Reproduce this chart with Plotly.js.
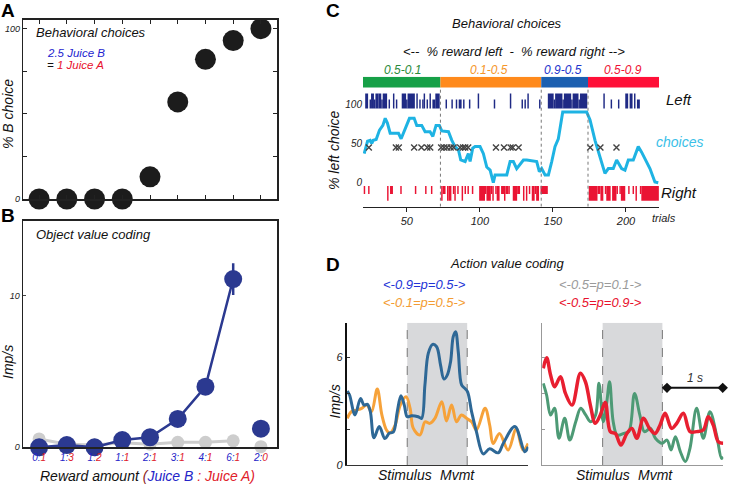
<!DOCTYPE html>
<html><head><meta charset="utf-8">
<script src="https://cdn.plot.ly/plotly-3.0.1.min.js"></script>
<style>html,body{margin:0;padding:0;background:#fff}#chart{width:729px;height:484px}</style>
</head><body><div id="chart"></div>
<script>
// ---------- Panel A / B data ----------
const ratioLabels = ['0:1','1:3','1:2','1:1','2:1','3:1','4:1','6:1','2:0'];
const pctBChoice = [0,0,0,0,13,57,82,93,100];
const objValueB = [0,0.15,0,0.48,0.66,1.87,4.0,11.1,1.23];
const objValueErr = [0,0,0,0,0,0,0,1.05,0];
const otherValue = [0.55,0.2,0.15,0.3,0.2,0.33,0.33,0.43,0.04];

// ---------- Panel C data ----------
const trialTicks = [50,100,150,200];
const blockEdges = [20,73,142,174,222.6];
const blockLabels = ['0.5-0.1','0.1-0.5','0.9-0.5','0.5-0.9'];
const blockColors = ['#16a047','#ff8a1c','#1c5fb0','#ff1038'];
const blockLabelColors = ['#2a8a3a','#f5962a','#2233cc','#ee1133'];
const choiceTrial = [20.8,23.1,24.9,26,27,29,31.3,33.6,35.2,36.7,38.6,44.3,46.1,48.8,51.8,55,56.8,60.2,62.5,65.9,67.8,70,72.3,73.9,78.5,80.8,83,85.3,86.9,89.9,92.1,93.3,95.1,96.7,100.1,102.4,104.7,107,109.2,110.4,118.4,120.7,122.9,125.2,129.8,132.1,138.9,140.7,142.3,144.6,146.9,149.2,151.4,153.7,156.7,173.1,175.4,178.8,182.2,185.6,187.9,191.3,193.6,197,199.3,201.6,205,208.4,210.7,213,216.4,219.8,222.1];
const choicePct = [37,53,54,50,54,55,67,73,82,76,63,63,56,69,82,82,73,73,65,65,59,73,73,66,65,54,46,42,29,27,37,27,44,46,46,37,20,16,0,10,10,27,27,18,29,29,27,14,18,10,10,27,46,56,90,90,80,54,33,12,18,18,29,18,16,29,29,46,39,31,18,1,0];
const xMarkTrials = [24,42.5,44.5,55,60,64,66,73.5,75.5,77.5,80,82,86.5,88.5,90,92,111,116.5,121,122.5,126.5,175.5,182.5,193.5];
const xMarkLevel = 45;
const leftTall = [[22,23],[26,27],[29,30],[31,32],[34,36],[41,41],[47,49],[51,55],[57,57],[62,62],[66,66],[70,72],[99,99],[121,121],[133,133],[147,150],[152,156],[158,162],[164,167],[169,173],[185,185],[200,201],[203,204],[206,206]];
const leftShort = [[25,25],[28,28],[33,33],[38,38],[43,43],[50,50],[59,59],[61,61],[64,64],[68,69],[77,77],[81,81],[84,84],[86,87],[89,89],[93,93],[110,110],[129,129],[131,131],[141,141],[151,151],[157,157],[163,163],[168,168],[190,190],[195,195],[208,209]];
const rightTall = [[37,37],[74,74],[78,78],[79,80],[83,83],[88,88],[100,103],[105,107],[109,109],[112,113],[117,117],[123,125],[130,130],[132,132],[136,137],[139,140],[175,180],[183,184],[187,189],[191,193],[197,199],[207,207],[211,222]];
const rightShort = [[21,21],[24,24],[39,40],[46,46],[56,56],[63,63],[67,67],[75,76],[82,82],[85,85],[90,90],[92,92],[95,95],[104,104],[108,108],[111,111],[115,116],[118,119],[120,120],[126,127],[134,134],[138,138],[142,146],[181,182],[186,186],[194,194],[196,196],[202,202],[205,205],[210,210]];

// ---------- Panel D data ----------
const mvmtTime = 1.04;
const tBlue = [-1.04,-1.0,-0.906,-0.81,-0.75,-0.69,-0.64,-0.577,-0.485,-0.387,-0.31,-0.24,-0.173,-0.109,-0.051,0,0.076,0.191,0.249,0.307,0.365,0.44,0.51,0.578,0.636,0.694,0.752,0.798,0.839,0.885,0.943,1.0,1.047,1.116,1.2,1.318,1.43,1.578,1.665,1.867,2.04,2.098];
const rBlue = [4.12,3.9,2.79,3.71,3.34,3.38,2.97,1.52,2.14,1.47,1.78,1.84,2.97,3.86,3.34,2.69,2.75,2.69,2.6,4.46,6.22,6.72,6.59,5.57,4.79,5.01,5.76,7.15,7.43,6.31,4.46,4.27,4.08,2.97,1.86,0.62,0.9,0.68,1.2,2.14,0.74,1.02];
const tOrange = [-1.04,-0.97,-0.88,-0.79,-0.7,-0.62,-0.52,-0.44,-0.36,-0.3,-0.21,-0.12,-0.02,0.05,0.106,0.22,0.31,0.39,0.48,0.6,0.68,0.77,0.855,0.94,1.03,1.116,1.2,1.35,1.43,1.49,1.6,1.75,1.89,2.01,2.098];
const rOrange = [2.6,2.97,3.06,3.16,3.34,2.97,4.23,2.79,1.95,1.78,2.23,3.34,3.8,3.16,2.04,1.67,2.41,2.32,2.6,3.53,2.45,3.34,2.41,2.79,2.6,2.41,1.95,3.16,2.23,1.2,1.76,0.83,2.0,0.83,1.2];
const tRed = [-1.033,-0.975,-0.906,-0.837,-0.733,-0.647,-0.532,-0.387,-0.3,-0.214,-0.127,-0.04,0.046,0.133,0.22,0.318,0.422,0.509,0.595,0.711,0.815,0.913,1.0,1.087,1.202,1.289,1.405,1.52,1.636,1.752,1.838,1.925,2.012,2.098];
const rRed = [5.39,5.98,5.02,4.36,4.92,3.99,3.34,5.11,4.64,3.34,2.32,2.79,3.49,1.86,1.76,1.11,1.76,2.04,1.49,2.6,2.04,1.76,2.23,2.88,2.04,2.32,2.88,1.86,1.86,1.95,2.69,2.23,1.3,1.21];
const tGreen = [-1.033,-0.975,-0.906,-0.837,-0.76,-0.66,-0.572,-0.468,-0.381,-0.295,-0.208,-0.122,-0.064,0.011,0.069,0.121,0.184,0.254,0.37,0.456,0.555,0.647,0.728,0.832,0.918,1.034,1.121,1.19,1.266,1.353,1.44,1.52,1.636,1.752,1.867,1.983,2.07,2.1];
const rGreen = [4.55,3.9,2.79,3.16,1.49,2.6,1.39,2.41,3.16,2.79,2.41,2.79,4.55,2.41,3.43,4.64,2.41,1.67,1.76,1.86,3.99,2.79,1.86,2.04,1.49,1.21,1.39,0.84,1.58,0.74,0.19,0.93,3.16,1.49,2.97,1.67,0.37,0.45];
const scaleBarX = [1.12, 2.09];
const scaleBarLevel = 4.3;

// ---------- build ----------
const W = 729, H = 484;
const fam = 'Liberation Sans, Arial, Helvetica, sans-serif';
const idx = ratioLabels.map((_, i) => i + 1);
const navyB = '#2b3990', grayB = '#cdcdcd';

function ann(text, px, py, size, color, extra) {
  return Object.assign({text: text, x: px / W, y: 1 - py / H, xref: 'paper', yref: 'paper',
    showarrow: false, xanchor: 'center', yanchor: 'middle',
    font: {family: fam, size: size, color: color || '#111', style: 'italic'}}, extra || {});
}
function blockBars(blocks, base, height, color, xa, ya) {
  return {type: 'bar', x: blocks.map(b => (b[0] + b[1]) / 2), width: blocks.map(b => b[1] - b[0] + 1),
    base: blocks.map(() => base), y: blocks.map(() => height), marker: {color: color, line: {width: 0}},
    xaxis: xa, yaxis: ya, hoverinfo: 'skip'};
}

const traces = [];
// Panel A
traces.push({x: idx, y: pctBChoice, mode: 'markers', marker: {size: 21, color: '#1c1c1c'}, cliponaxis: false, xaxis: 'x', yaxis: 'y'});
// Panel B
traces.push({x: idx.slice(0, 8), y: otherValue.slice(0, 8), mode: 'lines+markers', line: {color: grayB, width: 3}, marker: {size: 13, color: grayB}, cliponaxis: false, xaxis: 'x2', yaxis: 'y2'});
traces.push({x: idx.slice(8), y: otherValue.slice(8), mode: 'markers', marker: {size: 13, color: grayB}, cliponaxis: false, xaxis: 'x2', yaxis: 'y2'});
traces.push({x: idx.slice(0, 8), y: objValueB.slice(0, 8), mode: 'lines+markers', line: {color: navyB, width: 2.5},
  marker: {size: 18, color: navyB}, error_y: {type: 'data', array: objValueErr.slice(0, 8), color: navyB, thickness: 2.5, width: 0},
  cliponaxis: false, xaxis: 'x2', yaxis: 'y2'});
traces.push({x: idx.slice(8), y: objValueB.slice(8), mode: 'markers', marker: {size: 18, color: navyB}, cliponaxis: false, xaxis: 'x2', yaxis: 'y2'});
// Panel C
const blocks = blockLabels.map((_, i) => [blockEdges[i], blockEdges[i + 1]]);
traces.push({type: 'bar', x: blocks.map(b => (b[0] + b[1]) / 2), width: blocks.map(b => b[1] - b[0]),
  base: blocks.map(() => 121.4), y: blocks.map(() => 13.5), marker: {color: blockColors, line: {width: 0}}, xaxis: 'x3', yaxis: 'y3'});
traces.push(blockBars(leftTall, 94.6, 19, '#1f2a85', 'x3', 'y3'));
traces.push(blockBars(leftShort, 94.6, 11.5, '#1f2a85', 'x3', 'y3'));
traces.push(blockBars(rightTall, -22.9, 18.7, '#ea1434', 'x3', 'y3'));
traces.push(blockBars(rightShort, -14.4, 10.2, '#ea1434', 'x3', 'y3'));
traces.push({x: choiceTrial, y: choicePct, mode: 'lines', line: {color: '#1eb3e3', width: 3}, xaxis: 'x3', yaxis: 'y3'});
traces.push({x: xMarkTrials, y: xMarkTrials.map(() => xMarkLevel), mode: 'markers',
  marker: {symbol: 'x-thin-open', size: 6, color: '#444', line: {width: 1.4, color: '#444'}}, xaxis: 'x3', yaxis: 'y3'});
// Panel D
traces.push({x: tOrange, y: rOrange, mode: 'lines', line: {color: '#f6a23a', width: 3, shape: 'spline', smoothing: 1}, xaxis: 'x4', yaxis: 'y4'});
traces.push({x: tBlue, y: rBlue, mode: 'lines', line: {color: '#2e6896', width: 3, shape: 'spline', smoothing: 1}, xaxis: 'x4', yaxis: 'y4'});
traces.push({x: tGreen, y: rGreen, mode: 'lines', line: {color: '#4d9a75', width: 3, shape: 'spline', smoothing: 1}, xaxis: 'x5', yaxis: 'y5'});
traces.push({x: tRed, y: rRed, mode: 'lines', line: {color: '#e81f30', width: 3.5, shape: 'spline', smoothing: 1}, xaxis: 'x5', yaxis: 'y5'});
traces.push({x: scaleBarX, y: [scaleBarLevel, scaleBarLevel], mode: 'lines+markers', line: {color: '#111', width: 2},
  marker: {symbol: 'diamond', size: 8, color: '#111'}, cliponaxis: false, xaxis: 'x5', yaxis: 'y5'});

const tickTextB = ratioLabels.map(s => {
  const p = s.split(':');
  return '<span style="color:#2424c8">' + p[0] + ':</span><span style="color:#e0202a">' + p[1] + '</span>';
});

const noGrid = {showgrid: false, zeroline: false};
const layout = {
  width: W, height: H, margin: {l: 0, r: 0, t: 0, b: 0}, paper_bgcolor: '#fff', plot_bgcolor: 'rgba(0,0,0,0)',
  showlegend: false, barmode: 'overlay', font: {family: fam, color: '#111'},
  xaxis: Object.assign({domain: [23.3 / W, 277 / W], range: [0.43, 9.58], tickvals: idx, showticklabels: false, ticks: 'inside', ticklen: 4,
    tickcolor: '#222', showline: true, linecolor: '#222', linewidth: 1.5, mirror: 'ticks', anchor: 'y'}, noGrid),
  yaxis: Object.assign({domain: [1 - 199 / H, 1 - 19.5 / H], range: [0, 105.4], tickvals: [0, 25, 50, 75, 100], ticktext: ['0', '', '', '', '100'],
    ticks: 'inside', ticklen: 4, tickcolor: '#222', showline: true, linecolor: '#222', linewidth: 1.5, mirror: 'ticks', anchor: 'x',
    tickfont: {family: fam, size: 9, style: 'italic', color: '#222'}}, noGrid),
  xaxis2: Object.assign({domain: [23.3 / W, 277 / W], range: [0.43, 9.58], tickvals: idx, ticktext: tickTextB, ticks: '',
    showline: true, linecolor: '#222', linewidth: 1.8, mirror: true, anchor: 'y2',
    tickfont: {family: fam, size: 10, style: 'italic'}}, noGrid),
  yaxis2: Object.assign({domain: [1 - 447.3 / H, 1 - 220.7 / H], range: [0, 14.95], tickvals: [0, 10], ticks: 'inside', ticklen: 3,
    showline: true, linecolor: '#222', linewidth: 1.8, mirror: true, anchor: 'x2',
    tickfont: {family: fam, size: 9, style: 'italic', color: '#222'}}, noGrid),
  xaxis3: Object.assign({domain: [363 / W, 659 / W], range: [20, 222.6], tickvals: trialTicks, ticks: 'outside', ticklen: 4, tickcolor: '#222',
    showline: true, linecolor: '#222', linewidth: 1, anchor: 'y3', tickfont: {family: fam, size: 11, style: 'italic', color: '#222'}}, noGrid),
  yaxis3: Object.assign({domain: [1 - 206.7 / H, 1 - 76.7 / H], range: [-30.5, 135], tickvals: [0, 50, 100], ticks: '', showline: false,
    anchor: 'x3', tickfont: {family: fam, size: 10, style: 'italic', color: '#222'}}, noGrid),
  xaxis4: Object.assign({domain: [346.7 / W, 528.3 / W], range: [-1.05, 2.1], showticklabels: false, ticks: '', showline: true,
    linecolor: '#333', linewidth: 1, anchor: 'y4'}, noGrid),
  yaxis4: Object.assign({domain: [1 - 465 / H, 1 - 322.7 / H], range: [0, 7.93], tickvals: [0, 2, 4, 6], ticktext: ['0', '', '', '6'],
    ticks: 'inside', ticklen: 3, tickcolor: '#333', showline: true, linecolor: '#111', linewidth: 2, anchor: 'x4',
    tickfont: {family: fam, size: 11, style: 'italic', color: '#222'}}, noGrid),
  xaxis5: Object.assign({domain: [542.3 / W, 723.3 / W], range: [-1.05, 2.1], showticklabels: false, ticks: '', showline: true,
    linecolor: '#999', linewidth: 1, anchor: 'y5'}, noGrid),
  yaxis5: Object.assign({domain: [1 - 465 / H, 1 - 322.7 / H], range: [0, 7.93], tickvals: [2, 4, 6], showticklabels: false,
    ticks: 'inside', ticklen: 3, tickcolor: '#999', showline: true, linecolor: '#999', linewidth: 1, anchor: 'x5'}, noGrid),
  shapes: [], annotations: []
};

// Panel C dashed boundaries
blockEdges.slice(1, -1).forEach(b => layout.shapes.push({type: 'line', xref: 'x3', yref: 'y3', x0: b, x1: b, y0: -30.5, y1: 121.4,
  line: {color: '#777', width: 1, dash: 'dot'}}));
// Panel D shading
[['x4', 'y4'], ['x5', 'y5']].forEach(([xa, ya]) => {
  layout.shapes.push({type: 'rect', xref: xa, yref: ya, x0: 0, x1: mvmtTime, y0: 0, y1: 7.93, fillcolor: '#d8d9db', line: {width: 0}, layer: 'below'});
  [0, mvmtTime].forEach(v => layout.shapes.push({type: 'line', xref: xa, yref: ya, x0: v, x1: v, y0: 0, y1: 7.93,
    line: {color: '#777', width: 1, dash: 'dash'}, layer: 'below'}));
});

const A = layout.annotations;
// panel letters
[['A', 8, 11], ['B', 8, 215], ['C', 333, 11], ['D', 333, 264]].forEach(([t, x, y]) =>
  A.push(ann(t, x, y, 19, '#000', {font: {family: fam, size: 19, color: '#000', weight: 'bold'}})));
// Panel A text
A.push(ann('Behavioral choices', 34, 32, 13, '#111', {xanchor: 'left'}));
A.push(ann('2.5 Juice B', 45, 53, 11.5, '#2424d0', {xanchor: 'left'}));
A.push(ann('= <span style="color:#e8112d">1 Juice A</span>', 45, 65, 11.5, '#111', {xanchor: 'left'}));
A.push(ann('% B choice', 8, 114, 14, '#111', {textangle: -90}));
// Panel B text
A.push(ann('Object value coding', 34, 234, 13, '#111', {xanchor: 'left'}));
A.push(ann('Imp/s', 8, 362, 14, '#111', {textangle: -90}));
A.push(ann('Reward amount <span style="color:#8b1a1a">(</span><span style="color:#2424c8">Juice B</span><span style="color:#e0202a"> : Juice A)</span>', 147, 476, 14, '#111'));
// Panel C text
A.push(ann('Behavioral choices', 507, 23, 13));
A.push(ann('<--  % reward left  -  % reward right -->', 514, 51, 13));
blocks.forEach((b, i) => A.push(ann(blockLabels[i], [402.7, 488.7, 563, 623][i], 69.5, 12, blockLabelColors[i])));
A.push(ann('Left', 679, 100, 15));
A.push(ann('choices', 679, 142, 14, '#3bbfe8'));
A.push(ann('Right', 679, 192, 15));
A.push(ann('trials', 664, 218, 11, '#222'));
A.push(ann('% left choice', 334, 150, 14, '#111', {textangle: -90}));
// Panel D text
A.push(ann('Action value coding', 507, 263, 13));
A.push(ann('<-0.9=p=0.5->', 424, 284.5, 13, '#2233d6'));
A.push(ann('<-0.1=p=0.5->', 424, 302.5, 13, '#f39c33'));
A.push(ann('<-0.5=p=0.1->', 600.7, 284.5, 13, '#9a9a9a'));
A.push(ann('<-0.5=p=0.9->', 600.7, 302.5, 13, '#e8112d'));
A.push(ann('Imp/s', 334.5, 402, 14, '#111', {textangle: -90}));
A.push(ann('Stimulus', 405, 474.5, 14));
A.push(ann('Mvmt', 457.7, 474.5, 14));
A.push(ann('Stimulus', 602.7, 474.5, 14));
A.push(ann('Mvmt', 655, 474.5, 14));
A.push(ann('1 s', 695, 378, 12, '#333'));

Plotly.newPlot('chart', traces, layout, {displayModeBar: false, staticPlot: true});
</script></body></html>
